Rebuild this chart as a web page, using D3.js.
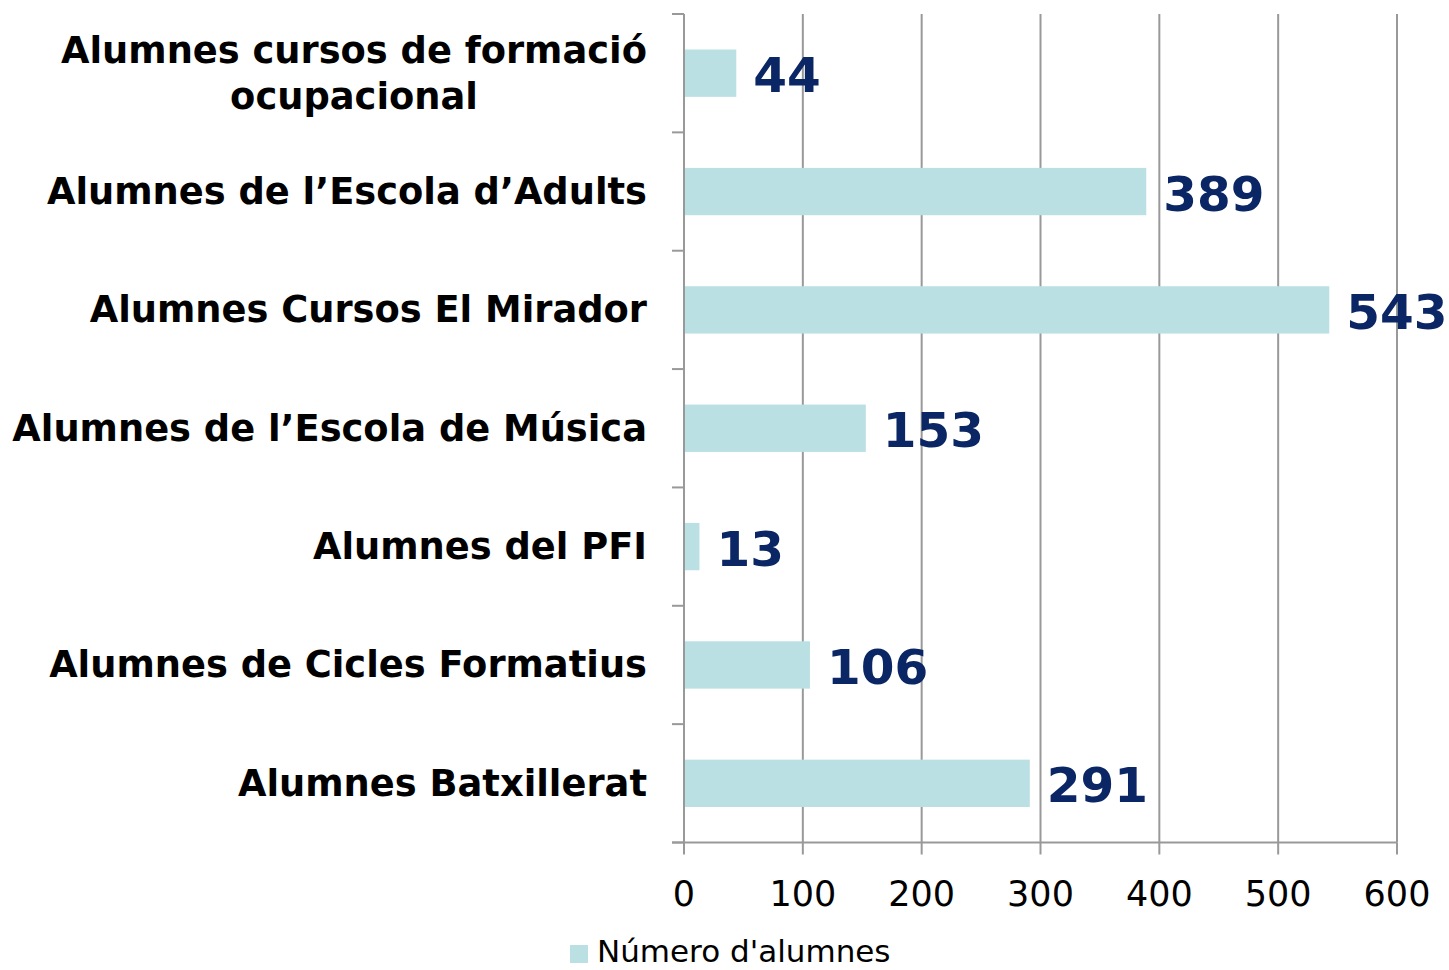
<!DOCTYPE html>
<html>
<head>
<meta charset="utf-8">
<script src="https://cdn.jsdelivr.net/npm/d3@7"></script>
<style>
  html, body { margin: 0; padding: 0; background: #fff; }
  svg { display: block; }
  text { font-family: "DejaVu Sans", Verdana, sans-serif; }
</style>
</head>
<body>
<svg id="chart" width="1449" height="970"></svg>
<script>
const categories = [
  ["Alumnes cursos de formació", "ocupacional"],
  ["Alumnes de l’Escola d’Adults"],
  ["Alumnes Cursos El Mirador"],
  ["Alumnes de l’Escola de Música"],
  ["Alumnes del PFI"],
  ["Alumnes de Cicles Formatius"],
  ["Alumnes Batxillerat"]
];
const values = [44, 389, 543, 153, 13, 106, 291];
const xTicks = [0, 100, 200, 300, 400, 500, 600];
const seriesName = "Número d'alumnes";

(function () {
const svg = d3.select("#chart");
const mLeft = 684, mRight = 1397, mTop = 14, mBottom = 842.5;
const ids = categories.map((c, i) => i);

const x = d3.scaleLinear().domain([0, 600]).range([mLeft, mRight]);
const y = d3.scaleBand().domain(ids).range([mTop, mBottom]).paddingInner(0.6).paddingOuter(0.3);

const grid = "#999999";

// vertical gridlines
svg.append("g").selectAll("line").data(xTicks.slice(1)).join("line")
  .attr("x1", d => x(d)).attr("x2", d => x(d))
  .attr("y1", mTop).attr("y2", mBottom)
  .attr("stroke", grid).attr("stroke-width", 2);

// bars
svg.append("g").selectAll("rect").data(ids).join("rect")
  .attr("x", x(0))
  .attr("y", i => y(i))
  .attr("width", i => x(values[i]) - x(0))
  .attr("height", y.bandwidth())
  .attr("fill", "#bbe0e3");

// y axis line and ticks
const step = y.step();
const bounds = ids.map(i => y(i) - step * 0.3).concat([mBottom]);
svg.append("line").attr("x1", mLeft).attr("x2", mLeft).attr("y1", mTop).attr("y2", mBottom)
  .attr("stroke", grid).attr("stroke-width", 2);
svg.append("g").selectAll("line").data(bounds).join("line")
  .attr("x1", mLeft - 12).attr("x2", mLeft).attr("y1", d => d).attr("y2", d => d)
  .attr("stroke", grid).attr("stroke-width", 2);

// x axis line & ticks
svg.append("line").attr("x1", mLeft - 12).attr("x2", mRight).attr("y1", mBottom).attr("y2", mBottom)
  .attr("stroke", grid).attr("stroke-width", 2);
svg.append("g").selectAll("line").data(xTicks).join("line")
  .attr("x1", d => x(d)).attr("x2", d => x(d)).attr("y1", mBottom).attr("y2", mBottom + 12)
  .attr("stroke", grid).attr("stroke-width", 2);

// x tick labels
svg.append("g").selectAll("text").data(xTicks).join("text")
  .attr("x", d => x(d)).attr("y", 906)
  .attr("text-anchor", "middle")
  .attr("font-size", 35)
  .attr("fill", "#000")
  .text(d => d);

// category labels
const catG = svg.append("g");
ids.forEach(i => {
  const lines = categories[i];
  const cy = y(i) + y.bandwidth() / 2;
  const lh = 46;
  const t = catG.append("text")
    .attr("font-size", 36.8).attr("font-weight", "bold").attr("fill", "#000");
  lines.forEach((ln, k) => {
    t.append("tspan")
      .attr("y", cy + 12.5 + (k - (lines.length - 1) / 2) * lh)
      .text(ln);
  });
  const spans = t.selectAll("tspan").nodes();
  const widths = spans.map(s => s.getComputedTextLength());
  const bw = Math.max(...widths);
  const cx = 647 - bw / 2;
  spans.forEach(s => d3.select(s).attr("x", cx).attr("text-anchor", "middle"));
});

// value labels
svg.append("g").selectAll("text").data(ids).join("text")
  .attr("x", i => x(values[i]) + 17)
  .attr("y", i => y(i) + y.bandwidth() / 2 + 19)
  .attr("font-size", 48.5).attr("font-weight", "bold")
  .attr("fill", "#0b2665")
  .text(i => values[i]);

// legend
svg.append("rect").attr("x", 570).attr("y", 945).attr("width", 18).attr("height", 18).attr("fill", "#bbe0e3");
svg.append("text").attr("x", 597).attr("y", 962).attr("font-size", 31).attr("fill", "#000").text(seriesName);
})();
</script>
</body>
</html>
